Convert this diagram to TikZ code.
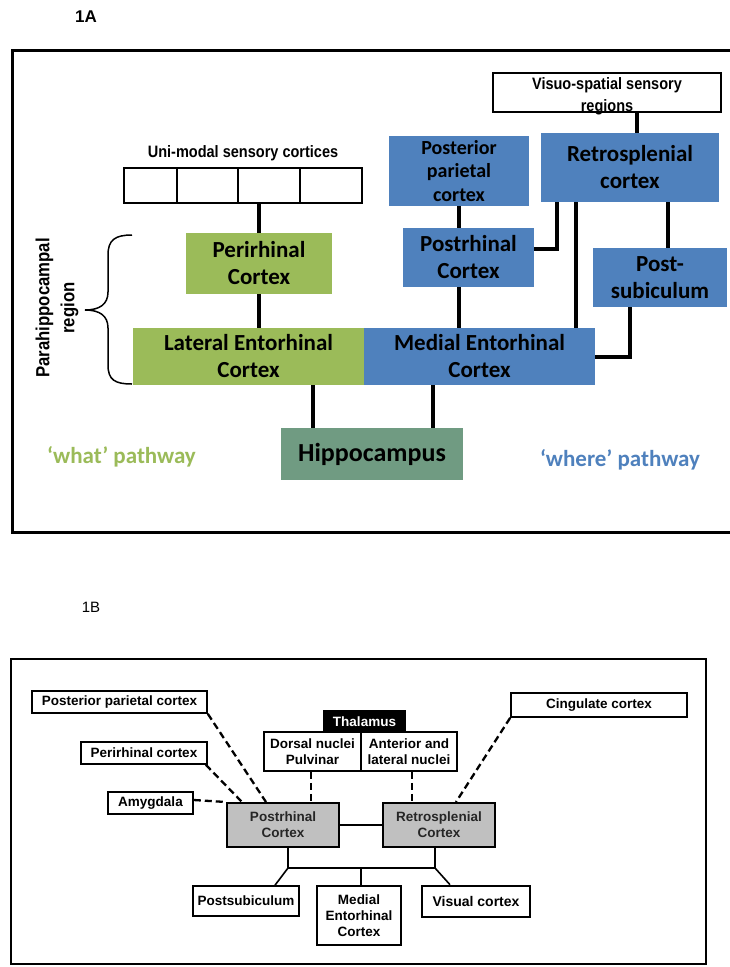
\documentclass[tikz,border=0pt]{standalone}
\usepackage{fontspec}
\setmainfont{Carlito}
\newfontfamily\arialf{Liberation Sans}
\newfontfamily\narrowf[FakeStretch=0.88]{Liberation Sans}
\usetikzlibrary{calc}
\definecolor{gr}{RGB}{155,187,89}
\definecolor{bl}{RGB}{79,129,189}
\definecolor{hipc}{RGB}{112,155,130}
\definecolor{grayb}{RGB}{192,192,192}
\newcommand{\fsz}[2]{\fontsize{#1bp}{#2bp}\selectfont}
\begin{document}
\begin{tikzpicture}[x=1bp,y=-1bp,
  wh/.style 2 args={minimum width=#1bp, minimum height=#2bp},
  abox/.style={inner sep=0pt, align=center, font=\bfseries\fsz{23}{27}, text=black},
  gbox/.style={abox, fill=gr},
  bbox/.style={abox, fill=bl},
  wbox/.style={draw=black, line width=2.5bp, fill=white, inner sep=0pt},
  conn/.style={line width=3.5bp, line join=miter},
  bnode/.style={draw=black, line width=1.6bp, fill=white, inner sep=0pt, align=center, font=\arialf\bfseries\fsz{13.5}{16}},
  cn/.style={line width=1.6bp},
  dsh/.style={line width=2.3bp, dash pattern=on 7bp off 4bp}
]
\useasboundingbox (0,0) rectangle (730,967);
\fill[white] (0,0) rectangle (730,967);

% ---------------- 1A ----------------
\node[font=\arialf\bfseries\fsz{17}{20}] (la) at (86,17) {1A};
\draw[line width=3bp] (731,50) -- (12,50) -- (12,532) -- (731,532);

\node[wbox, wh={238}{35}] (uni) at (243,185.5) {};
\foreach \xx in {177,238,300} \draw[line width=1.5bp] (\xx,168) -- (\xx,203);
\node[font=\narrowf\bfseries\fsz{16.5}{19}] (unil) at (243,153) {Uni-modal sensory cortices};

\node[wbox, wh={228}{39}] (vis) at (607,92.5) {};
\node[align=center, inner sep=0pt, font=\narrowf\bfseries\fsz{16.5}{22}] (visl) at (607,96) {Visuo-spatial sensory\\regions};

\node[bbox, wh={140}{70}, font=\bfseries\fsz{20}{23.5}] (ppc) at (459,171) {Posterior\\parietal\\cortex};
\node[bbox, wh={178}{69}] (retro) at (630,167.5) {Retrosplenial\\cortex};
\node[bbox, wh={131}{59}] (postr) at (468.5,257.5) {Postrhinal\\Cortex};
\node[bbox, wh={134}{59}] (psub) at (660,277.5) {Post-\\subiculum};
\node[gbox, wh={146}{61}] (peri) at (259,263.5) {Perirhinal\\Cortex};
\node[gbox, wh={231}{57}] (lec) at (248.5,356.5) {Lateral Entorhinal\\Cortex};
\node[bbox, wh={231}{57}] (mec) at (479.5,356.5) {Medial Entorhinal\\Cortex};
\node[abox, fill=hipc, wh={182}{52}, font=\bfseries\fsz{26}{30}] (hip) at (372,454) {Hippocampus};

\node[font=\bfseries\fsz{23}{27}, text=gr] (what) at (121.5,457) {‘what’ pathway};
\node[font=\bfseries\fsz{23}{27}, text=bl] (where) at (620,460) {‘where’ pathway};

\node[rotate=90, align=center, inner sep=0pt, font=\narrowf\bfseries\fsz{19}{25}] (para) at (57,308) {Parahippocampal\\region};
\draw[line width=1.5bp] (132,235) .. controls (115,235) and (108,240) .. (108,255) -- (108,292)
  .. controls (108,304) and (100,310) .. (85,310) .. controls (100,310) and (108,316) .. (108,328)
  -- (108,365) .. controls (108,380) and (115,384) .. (132,384);

\coordinate (c313) at (313,0);
\coordinate (c433) at (433,0);
\coordinate (c459) at (459,0);
\coordinate (c637) at (637,0);
\coordinate (c576) at (576,0);
\coordinate (c668) at (668,0);
\coordinate (rp) at (557,249);
\coordinate (pm) at (630,357);

\draw[conn] (uni.south -| peri.north) -- (peri.north);
\draw[conn] (peri.south) -- (peri.south |- lec.north);
\draw[conn] (lec.south -| c313) -- (hip.north -| c313);
\draw[conn] (mec.south -| c433) -- (hip.north -| c433);
\draw[conn] (ppc.south -| c459) -- (postr.north -| c459);
\draw[conn] (postr.south -| c459) -- (mec.north -| c459);
\draw[conn] (vis.south -| c637) -- (retro.north -| c637);
\draw[conn] (retro.south -| rp) -- (rp) -- (rp -| postr.east);
\draw[conn] (retro.south -| c576) -- (mec.north -| c576);
\draw[conn] (retro.south -| c668) -- (psub.north -| c668);
\draw[conn] (psub.south -| pm) -- (pm) -- (pm -| mec.east);

% ---------------- 1B ----------------
\node[font=\arialf\fsz{15}{18}] (lb) at (91,607) {1B};
\draw[line width=1.5bp] (11,659) rectangle (706,964);

\node[bnode, wh={175}{22}] (ppc2) at (119.5,702) {Posterior parietal cortex};
\node[bnode, wh={126}{22}] (peri2) at (144,753) {Perirhinal cortex};
\node[bnode, wh={85}{22}] (amy) at (150.5,803) {Amygdala};
\node[bnode, fill=black, text=white, wh={81}{21}] (thal) at (364.5,721.5) {Thalamus};
\node[bnode, wh={97}{39}] (dors) at (312.5,751.5) {Dorsal nuclei\\Pulvinar};
\node[bnode, wh={96}{39}] (ant) at (409,751.5) {Anterior and\\lateral nuclei};
\node[bnode, fill=grayb, line width=2bp, text=black!85, wh={112}{44}] (postr2) at (283,825) {Postrhinal\\Cortex};
\node[bnode, fill=grayb, line width=2bp, text=black!85, wh={112}{44}] (retro2) at (439,825) {Retrosplenial\\Cortex};
\node[bnode, wh={176}{24}] (cing) at (599,705) {Cingulate cortex};
\node[bnode, wh={106}{30}] (psub2) at (246,901) {Postsubiculum};
\node[bnode, wh={84}{59}] (mec2) at (359,915.5) {Medial\\Entorhinal\\Cortex};
\node[bnode, line width=2.6bp, font=\arialf\bfseries\fsz{14}{17}, wh={108}{31}] (vis2) at (476,901.5) {Visual cortex};

\coordinate (d311) at (311,0);
\coordinate (d412) at (412,0);
\coordinate (r456) at (456,0);
\coordinate (p266) at (266,0);
\coordinate (p242) at (242,0);
\coordinate (j1) at (288,868);
\coordinate (j2) at (435,868);
\coordinate (j3) at (361,868);

\draw[cn] (postr2.east) -- (retro2.west);
\draw[dsh] (dors.south -| d311) -- (postr2.north -| d311);
\draw[dsh] (ant.south -| d412) -- (retro2.north -| d412);
\draw[dsh] (cing.south west) -- (retro2.north -| r456);
\draw[dsh] (ppc2.south east) -- (postr2.north -| p266);
\draw[dsh] ([xshift=-2bp]peri2.south east) -- (postr2.north -| p242);
\draw[dsh] ([yshift=3bp]amy.east) -- (postr2.north west);
\draw[cn] (postr2.south -| j1) -- (j1) -- (j2) -- (retro2.south -| j2);
\draw[cn] (j3) -- (mec2.north -| j3);
\draw[cn] (j1) -- ([xshift=29bp]psub2.north);
\draw[cn] (j2) -- ([xshift=-26bp]vis2.north);
\end{tikzpicture}
\end{document}
